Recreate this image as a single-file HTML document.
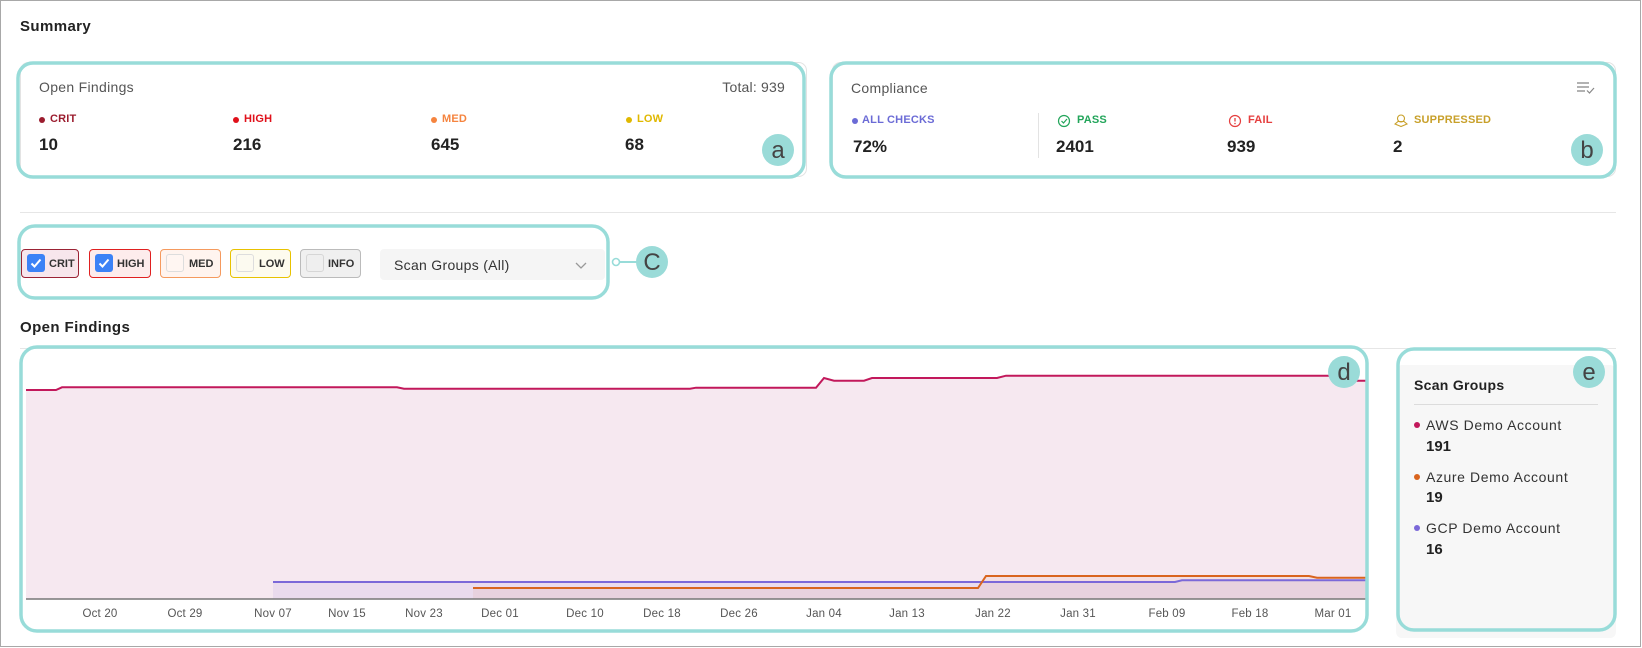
<!DOCTYPE html>
<html><head><meta charset="utf-8">
<style>
*{margin:0;padding:0;box-sizing:border-box}
html,body{width:1642px;height:648px;background:#fff;overflow:hidden;font-family:"Liberation Sans",sans-serif;color:#222}
.a{position:absolute;white-space:nowrap;line-height:1}
.lbl{font-size:11px;font-weight:bold;letter-spacing:0.2px}
.num{font-size:17px;font-weight:bold;color:#222}
.chip{position:absolute;height:29px;border:1px solid;border-radius:4px}
.cb{position:absolute;left:5px;top:4px;width:18px;height:18px;border-radius:3px}
.ct{position:absolute;top:8px;font-size:11px;font-weight:bold;color:#333}
.sg{font-size:14px;color:#333;letter-spacing:0.6px}
.sgn{font-size:15px;font-weight:bold;color:#222}
</style></head>
<body>
<svg width="1642" height="648" style="position:absolute;left:0;top:0" xmlns="http://www.w3.org/2000/svg">
  <!-- outer border -->
  <rect x="0.5" y="0.5" width="1640" height="646" fill="none" stroke="#a8a8a8" stroke-width="1"/>
  <!-- cards gray borders -->
  <rect x="20.5" y="62.5" width="786" height="114" rx="8" fill="#fff" stroke="#e3e3e3"/>
  <rect x="832.5" y="62.5" width="783" height="114" rx="8" fill="#fff" stroke="#e3e3e3"/>
  <!-- dividers -->
  <line x1="20" y1="212.5" x2="1616" y2="212.5" stroke="#e6e6e6"/>
  <line x1="20" y1="348.5" x2="1616" y2="348.5" stroke="#e6e6e6"/>
  <!-- card b divider -->
  <line x1="1038.5" y1="113" x2="1038.5" y2="158" stroke="#e3e3e3"/>
  <!-- scan groups panel -->
  <rect x="1396" y="365" width="220" height="273" rx="6" fill="#f7f7f7"/>
  <line x1="1414" y1="404.5" x2="1598" y2="404.5" stroke="#dcdcdc"/>
  <!-- dropdown -->
  <rect x="380" y="249" width="225" height="31" rx="4" fill="#f5f5f5"/>
  <polyline points="576,263 581,268 586,263" fill="none" stroke="#999" stroke-width="1.3"/>

  <!-- chart -->
  <path d="M26,390 L56,390 L62,387.3 L397,387.3 L404,388.7 L690,388.7 L696,387.7 L816,387.7 L824,378 L834,380.7 L864,380.7 L872,378 L997,378 L1006,375.7 L1329,375.7 L1345,384 L1354,380.7 L1366,380.7 L1366,599 L26,599 Z" fill="#f6e8f0"/>
  <path d="M273,582 L1175,582 L1182,580.3 L1366,580.3 L1366,599 L273,599 Z" fill="#7b68d8" fill-opacity="0.1"/>
  <path d="M473,588 L978,588 L986,576 L1309,576 L1317,577.7 L1366,577.7 L1366,599 L473,599 Z" fill="#d9641e" fill-opacity="0.07"/>
  <path d="M26,390 L56,390 L62,387.3 L397,387.3 L404,388.7 L690,388.7 L696,387.7 L816,387.7 L824,378 L834,380.7 L864,380.7 L872,378 L997,378 L1006,375.7 L1329,375.7 L1345,384 L1354,380.7 L1366,380.7" fill="none" stroke="#c2185b" stroke-width="2"/>
  <path d="M273,582 L1175,582 L1182,580.3 L1366,580.3" fill="none" stroke="#7b68d8" stroke-width="2"/>
  <path d="M473,588 L978,588 L986,576 L1309,576 L1317,577.7 L1366,577.7" fill="none" stroke="#d9641e" stroke-width="2"/>
  <line x1="26" y1="599" x2="1366" y2="599" stroke="#777" stroke-width="1.5"/>
  <g font-family="Liberation Sans, sans-serif" font-size="11.5" fill="#555" text-anchor="middle" letter-spacing="0.2">
    <text x="100" y="617">Oct 20</text>
    <text x="185" y="617">Oct 29</text>
    <text x="273" y="617">Nov 07</text>
    <text x="347" y="617">Nov 15</text>
    <text x="424" y="617">Nov 23</text>
    <text x="500" y="617">Dec 01</text>
    <text x="585" y="617">Dec 10</text>
    <text x="662" y="617">Dec 18</text>
    <text x="739" y="617">Dec 26</text>
    <text x="824" y="617">Jan 04</text>
    <text x="907" y="617">Jan 13</text>
    <text x="993" y="617">Jan 22</text>
    <text x="1078" y="617">Jan 31</text>
    <text x="1167" y="617">Feb 09</text>
    <text x="1250" y="617">Feb 18</text>
    <text x="1333" y="617">Mar 01</text>
  </g>

  <!-- icons card b -->
  <circle cx="855" cy="121" r="3" fill="#6b6bd6"/>
  <circle cx="1064" cy="121" r="5.5" fill="none" stroke="#22a55a" stroke-width="1.2"/>
  <polyline points="1061.5,121 1063.5,123 1067,119" fill="none" stroke="#22a55a" stroke-width="1.2"/>
  <circle cx="1235" cy="121" r="5.5" fill="none" stroke="#e53e3e" stroke-width="1.2"/>
  <line x1="1235" y1="118" x2="1235" y2="121.5" stroke="#e53e3e" stroke-width="1.3"/>
  <circle cx="1235" cy="123.5" r="0.8" fill="#e53e3e"/>
  <circle cx="1401" cy="118.5" r="3.5" fill="none" stroke="#c8a02a" stroke-width="1.1"/>
  <path d="M1395,124 L1398,121.5 L1404,121.5 L1407,124 L1401,126.5 Z" fill="none" stroke="#c8a02a" stroke-width="1.1"/>
  <g stroke="#888" stroke-width="1.3">
    <line x1="1577" y1="83" x2="1589" y2="83"/>
    <line x1="1577" y1="87" x2="1589" y2="87"/>
    <line x1="1577" y1="91" x2="1585" y2="91"/>
  </g>
  <polyline points="1587,90.5 1589.5,93 1594,88" fill="none" stroke="#888" stroke-width="1.2"/>

  <!-- card a dots -->
  <circle cx="42" cy="120" r="3" fill="#9b1c2e"/>
  <circle cx="236" cy="120" r="3" fill="#e0101a"/>
  <circle cx="434" cy="120" r="3" fill="#f5843f"/>
  <circle cx="629" cy="120" r="3" fill="#e0b800"/>
  <!-- scan group dots -->
  <circle cx="1417" cy="425" r="3" fill="#c2185b"/>
  <circle cx="1417" cy="477" r="3" fill="#d9641e"/>
  <circle cx="1417" cy="528" r="3" fill="#7b68d8"/>

  <!-- teal highlight boxes -->
  <g fill="none" stroke="#98dcd9" stroke-width="3.5">
    <rect x="18" y="63" width="786" height="114" rx="15"/>
    <rect x="831" y="63" width="784" height="114" rx="15"/>
    <rect x="19" y="226" width="589" height="72" rx="16"/>
    <rect x="21" y="347" width="1346" height="284" rx="16"/>
    <rect x="1398" y="349" width="217" height="281" rx="16"/>
  </g>
  <!-- connector c -->
  <line x1="619" y1="262" x2="637" y2="262" stroke="#98dcd9" stroke-width="2"/>
  <circle cx="616" cy="262" r="3.5" fill="#fff" stroke="#98dcd9" stroke-width="1.6"/>
  <!-- badges -->
  <g fill="#9adbd8">
    <circle cx="778" cy="150" r="16"/>
    <circle cx="1587" cy="150" r="16"/>
    <circle cx="652" cy="262" r="16"/>
    <circle cx="1344" cy="372" r="16"/>
    <circle cx="1589" cy="372" r="16"/>
  </g>
  <g font-family="Liberation Sans, sans-serif" font-size="24" fill="#444" text-anchor="middle" font-weight="normal">
    <text x="778" y="158">a</text>
    <text x="1587" y="158">b</text>
    <text x="652" y="270">C</text>
    <text x="1344" y="380">d</text>
    <text x="1589" y="380">e</text>
  </g>
</svg>

<!-- headings -->
<div class="a" style="left:20px;top:19px;font-size:15px;font-weight:bold;letter-spacing:0.4px;color:#222">Summary</div>
<div class="a" style="left:20px;top:320px;font-size:15px;font-weight:bold;letter-spacing:0.4px;color:#222">Open Findings</div>

<!-- card a -->
<div class="a" style="left:39px;top:80px;font-size:14px;color:#555;letter-spacing:0.3px">Open Findings</div>
<div class="a" style="right:857px;top:80px;font-size:14px;color:#555;letter-spacing:0.2px">Total: 939</div>
<div class="a lbl" style="left:50px;top:114px;color:#9b1c2e">CRIT</div>
<div class="a lbl" style="left:244px;top:114px;color:#e0101a">HIGH</div>
<div class="a lbl" style="left:442px;top:114px;color:#f5843f">MED</div>
<div class="a lbl" style="left:637px;top:114px;color:#e0b800">LOW</div>
<div class="a num" style="left:39px;top:136px">10</div>
<div class="a num" style="left:233px;top:136px">216</div>
<div class="a num" style="left:431px;top:136px">645</div>
<div class="a num" style="left:625px;top:136px">68</div>

<!-- card b -->
<div class="a" style="left:851px;top:81px;font-size:14px;color:#555;letter-spacing:0.3px">Compliance</div>
<div class="a lbl" style="left:862px;top:115px;color:#6b6bd6">ALL CHECKS</div>
<div class="a lbl" style="left:1077px;top:115px;color:#22a55a">PASS</div>
<div class="a lbl" style="left:1248px;top:115px;color:#e53e3e">FAIL</div>
<div class="a lbl" style="left:1414px;top:115px;color:#c8a02a">SUPPRESSED</div>
<div class="a num" style="left:853px;top:138px">72%</div>
<div class="a num" style="left:1056px;top:138px">2401</div>
<div class="a num" style="left:1227px;top:138px">939</div>
<div class="a num" style="left:1393px;top:138px">2</div>

<!-- chips -->
<div class="chip" style="left:21px;top:249px;width:58px;border-color:#9b2335;background:#f7e6ec">
  <div class="cb" style="background:#3b82f6"><svg width="18" height="18" style="position:absolute;left:0;top:0"><polyline points="4.5,9.5 7.5,12.5 13.5,5.5" fill="none" stroke="#fff" stroke-width="2"/></svg></div>
  <div class="ct" style="left:27px">CRIT</div>
</div>
<div class="chip" style="left:89px;top:249px;width:62px;border-color:#e02020;background:#fdecec">
  <div class="cb" style="background:#3b82f6"><svg width="18" height="18" style="position:absolute;left:0;top:0"><polyline points="4.5,9.5 7.5,12.5 13.5,5.5" fill="none" stroke="#fff" stroke-width="2"/></svg></div>
  <div class="ct" style="left:27px">HIGH</div>
</div>
<div class="chip" style="left:160px;top:249px;width:61px;border-color:#f59a5e;background:#fff4ef">
  <div class="cb" style="border:1px solid #ddd;background:#fff6f2"></div>
  <div class="ct" style="left:28px">MED</div>
</div>
<div class="chip" style="left:230px;top:249px;width:61px;border-color:#e8c200;background:#fdfbee">
  <div class="cb" style="border:1px solid #ddd;background:#fcfaf0"></div>
  <div class="ct" style="left:28px">LOW</div>
</div>
<div class="chip" style="left:300px;top:249px;width:61px;border-color:#bbb;background:#f0f0f0">
  <div class="cb" style="border:1px solid #d6d6d6;background:#efefef"></div>
  <div class="ct" style="left:27px">INFO</div>
</div>
<div class="a" style="left:394px;top:258px;font-size:14px;color:#333;letter-spacing:0.3px">Scan Groups (All)</div>

<!-- scan groups -->
<div class="a" style="left:1414px;top:378px;font-size:14px;font-weight:bold;color:#222;letter-spacing:0.3px">Scan Groups</div>
<div class="a sg" style="left:1426px;top:418px">AWS Demo Account</div>
<div class="a sgn" style="left:1426px;top:439px">191</div>
<div class="a sg" style="left:1426px;top:470px">Azure Demo Account</div>
<div class="a sgn" style="left:1426px;top:490px">19</div>
<div class="a sg" style="left:1426px;top:521px">GCP Demo Account</div>
<div class="a sgn" style="left:1426px;top:542px">16</div>
</body></html>
